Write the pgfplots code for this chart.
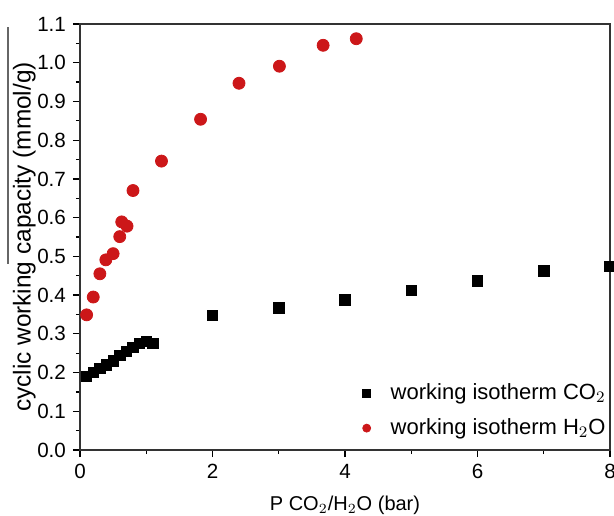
\documentclass[border=0pt]{standalone}
\usepackage{fontspec}
\setmainfont{Liberation Sans}
\usepackage{pgfplots}
\pgfplotsset{compat=1.18}
\definecolor{ptred}{HTML}{CC1719}
\begin{document}
\begin{tikzpicture}
\begin{axis}[
  scale only axis, width=265pt, height=213pt,
  xmin=0, xmax=8, ymin=0, ymax=1.1,
  xtick={0,2,4,6,8}, minor xtick={1,3,5,7},
  ytick={0,0.1,...,1.1}, minor ytick={0.05,0.15,...,1.05},
  yticklabel style={/pgf/number format/.cd,fixed,fixed zerofill,precision=1},
  /pgf/number format/assume math mode=true,
  tick align=outside, tick pos=left,
  major tick length=3.5pt, minor tick length=2pt,
  every tick/.style={black, line width=0.6pt},
  axis line style={line width=0.7pt, black!80},
  font=\fontsize{10.3}{12}\selectfont,
  xlabel={P CO$_2$/H$_2$O (bar)},
  ylabel={cyclic working capacity (mmol/g)},
  xlabel style={yshift=-2pt, font=\fontsize{10}{12}\selectfont},
  ylabel style={yshift=-6pt, font=\fontsize{12.2}{14}\selectfont},
  legend style={draw=none, fill=none, at={(axis cs:8,0)}, anchor=south east, xshift=1pt, yshift=3pt,
    font=\fontsize{11}{12}\selectfont, row sep=4pt, inner sep=1pt,
    /tikz/every odd column/.append style={column sep=8pt}},
  legend image post style={mark size=2pt},
  legend cell align=left,
  clip=false,
]
\addplot[only marks, mark=square*, mark size=2.6pt, black] coordinates {
(0.1,0.19)(0.2,0.20)(0.3,0.21)(0.4,0.22)(0.5,0.23)(0.6,0.245)(0.7,0.255)
(0.8,0.265)(0.9,0.275)(1.0,0.28)(1.1,0.275)(2,0.347)(3,0.367)(4,0.388)
(5,0.412)(6,0.437)(7,0.462)(8,0.474)};
\addlegendentry{working isotherm CO$_2$}
\addplot[only marks, mark=*, mark size=3pt, ptred, mark options={draw=ptred, fill=ptred}] coordinates {
(0.1,0.349)(0.2,0.395)(0.3,0.455)(0.39,0.491)(0.5,0.507)(0.6,0.551)(0.63,0.589)
(0.71,0.578)(0.8,0.670)(1.23,0.746)(1.82,0.854)(2.40,0.947)(3.01,0.991)(3.67,1.045)(4.17,1.062)};
\addlegendentry{working isotherm H$_2$O}
\draw[black!60, line width=0.6pt] ([xshift=-36pt, yshift=-1.5pt]rel axis cs:0,1) -- ([xshift=-36pt]rel axis cs:0,0.437);
\end{axis}
\pgfresetboundingbox
\path (-40pt,-32.5pt) rectangle (267pt,225pt);
\end{tikzpicture}
\end{document}
